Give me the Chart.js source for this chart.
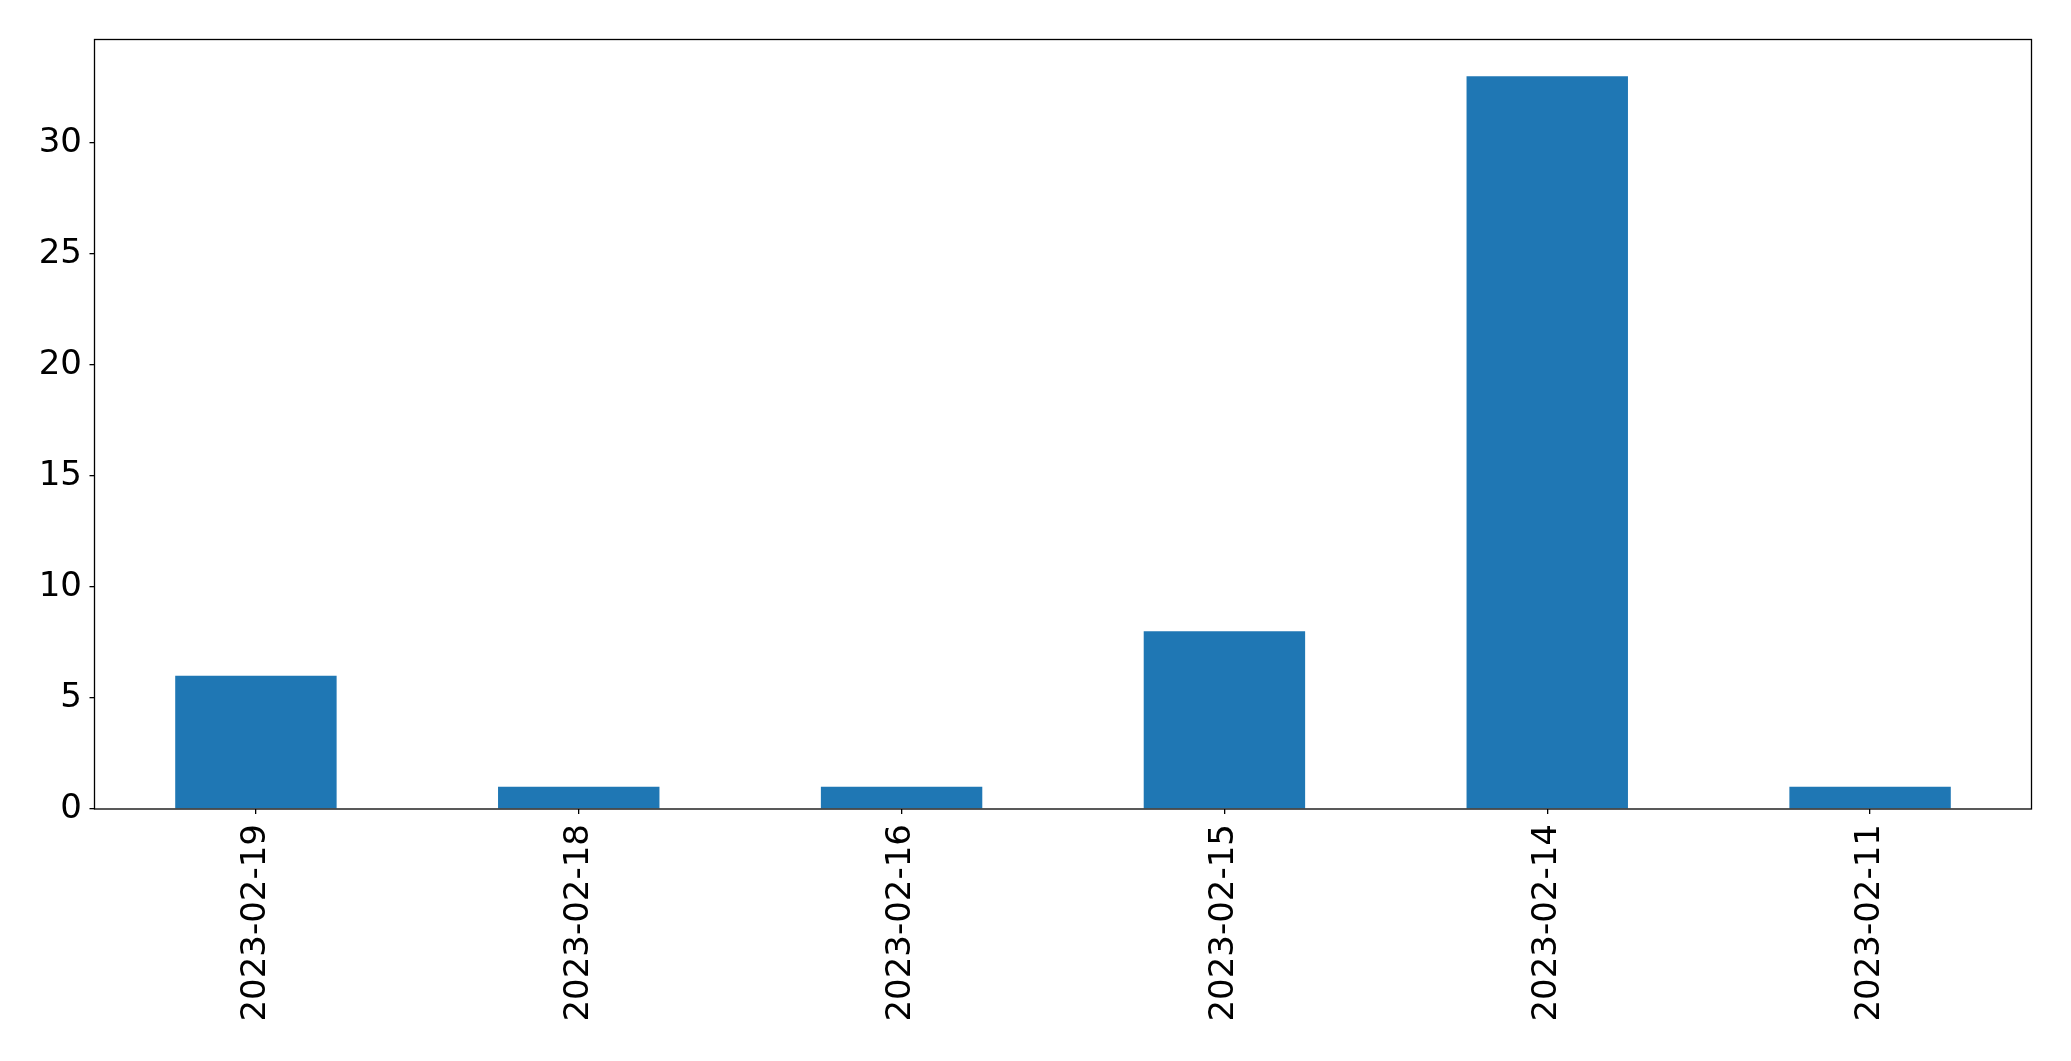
<!DOCTYPE html>
<html>
<head>
<meta charset="utf-8">
<script src="https://cdn.jsdelivr.net/npm/chart.js@4/dist/chart.umd.min.js"></script>
<style>
html,body{margin:0;padding:0;background:#fff;}
#wrap{width:2071px;height:1061px;}
</style>
</head>
<body>
<div id="wrap"><canvas id="c" width="2071" height="1061"></canvas></div>
<script>
const categories = ['2023-02-19','2023-02-18','2023-02-16','2023-02-15','2023-02-14','2023-02-11'];
const counts = [6, 1, 1, 8, 33, 1];
const yTicks = [0, 5, 10, 15, 20, 25, 30];
const yMax = 34.65;

const frame = {
  id: 'frame',
  afterDraw(chart) {
    const a = chart.chartArea, ctx = chart.ctx;
    ctx.save();
    ctx.strokeStyle = '#000';
    ctx.lineWidth = 1.3;
    ctx.strokeRect(a.left, a.top, a.right - a.left, a.bottom - a.top);
    ctx.restore();
  }
};

const font = { family: 'DejaVu Sans', size: 34 };

new Chart(document.getElementById('c'), {
  type: 'bar',
  data: {
    labels: categories,
    datasets: [{
      data: counts,
      backgroundColor: '#1f77b4',
      borderWidth: 0,
      barPercentage: 0.5,
      categoryPercentage: 1.0
    }]
  },
  options: {
    responsive: false,
    animation: false,
    devicePixelRatio: 1,
    layout: { padding: { left: 0, top: 39.5, right: 39.5, bottom: 0 } },
    plugins: { legend: { display: false }, tooltip: { enabled: false } },
    scales: {
      x: {
        grid: { display: true, offset: false, drawOnChartArea: false, drawTicks: true, tickLength: 5, color: '#000', lineWidth: 1.3 },
        border: { display: false },
        ticks: { color: '#000', font: font, minRotation: 90, maxRotation: 90, padding: 10, autoSkip: false },
        afterFit(s) { s.height = 1061 - 809; }
      },
      y: {
        min: 0,
        max: yMax,
        grid: { display: true, drawOnChartArea: false, drawTicks: true, tickLength: 5, color: '#000', lineWidth: 1.3 },
        border: { display: false },
        ticks: { color: '#000', font: font, padding: 7.5, stepSize: 5 },
        afterBuildTicks(s) { s.ticks = yTicks.map(v => ({ value: v })); },
        afterFit(s) { s.width = 94.5; }
      }
    }
  },
  plugins: [frame]
});
</script>
</body>
</html>
